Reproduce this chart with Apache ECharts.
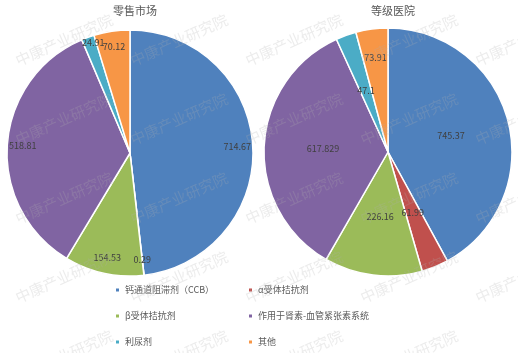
<!DOCTYPE html>
<html>
<head>
<meta charset="utf-8">
<script src="https://cdn.jsdelivr.net/npm/echarts@6/dist/echarts.min.js"></script>
<style>
  html, body { margin: 0; padding: 0; background: #fff; }
  #chart { width: 518px; height: 353px; }
</style>
</head>
<body>
<div id="chart"></div>
<script>
'use strict';

var _names = ['钙通道阻滞剂（CCB）', 'α受体拮抗剂', 'β受体拮抗剂', '作用于肾素-血管紧张素系统', '利尿剂', '其他'];
var _retailValues = [714.67, 0.29, 154.53, 518.81, 24.91, 70.12];
var _hospitalValues = [745.37, 61.99, 226.16, 617.829, 47.1, 73.91];
var _titles = ['零售市场', '等级医院'];
var _colors = ['#4F81BD', '#C0504D', '#9BBB59', '#8064A2', '#4BACC6', '#F79646'];

var FONT = '"Noto Sans CJK SC", "Noto Sans", sans-serif';

function toData(values) {
  return values.map(function (v, i) {
    return { name: _names[i], value: v };
  });
}

// 水印
function watermark() {
  var items = [];
  for (var r = 0; r < 5; r++) {
    for (var c = 0; c < 5; c++) {
      items.push({
        type: 'text',
        x: 64 + c * 115,
        y: 40 + r * 79,
        rotation: 0.42,
        z: 100,
        silent: true,
        style: {
          text: '中康产业研究院',
          font: '15px ' + FONT,
          fill: 'rgba(175,175,175,0.24)',
          align: 'center',
          verticalAlign: 'middle',
        },
      });
    }
  }
  return items;
}

var retailLabelData = toData(_retailValues);
// 利尿剂 的标签在原图中偏上
retailLabelData[4].label = { offset: [0, -9] };

var hospitalData = toData(_hospitalValues);
// 其他 的标签在原图中靠外
hospitalData[5].label = { offset: [-4, -30] };

var labelStyle = {
  show: true,
  position: 'inside',
  fontSize: 9,
  color: '#404040',
  fontFamily: FONT,
  formatter: '{c}',
};

var myChart = echarts.init(document.getElementById('chart'));
myChart.setOption({
  animation: false,
  color: _colors,
  textStyle: { fontFamily: FONT },
  title: [{
    text: _titles[0],
    left: 130,
    top: 0,
    textAlign: 'center',
    textStyle: { fontSize: 11, fontWeight: 'normal', color: '#595959', fontFamily: FONT },
  }, {
    text: _titles[1],
    left: 388,
    top: 0,
    textAlign: 'center',
    textStyle: { fontSize: 11, fontWeight: 'normal', color: '#595959', fontFamily: FONT },
  }],
  legend: [{
    data: [_names[0], _names[2], _names[4]],
    orient: 'vertical',
    left: 114,
    top: 284,
    padding: 0,
    icon: 'rect',
    itemWidth: 5,
    itemHeight: 5,
    itemGap: 14,
    textStyle: { fontSize: 9, color: '#595959', lineHeight: 12, fontFamily: FONT },
  }, {
    data: [_names[1], _names[3], _names[5]],
    orient: 'vertical',
    left: 247,
    top: 284,
    padding: 0,
    icon: 'rect',
    itemWidth: 5,
    itemHeight: 5,
    itemGap: 14,
    textStyle: { fontSize: 9, color: '#595959', lineHeight: 12, fontFamily: FONT },
  }],
  graphic: watermark(),
  series: [{
    name: _titles[0],
    type: 'pie',
    center: [130, 153],
    radius: [0, 123],
    startAngle: 90,
    clockwise: true,
    avoidLabelOverlap: false,
    itemStyle: { borderColor: '#fff', borderWidth: 1.5 },
    label: { show: false },
    labelLine: { show: false },
    data: toData(_retailValues),
  }, {
    // 只用于放标签（靠外）
    name: _titles[0] + '标签',
    type: 'pie',
    center: [130, 153],
    radius: [86, 123],
    startAngle: 90,
    clockwise: true,
    silent: true,
    avoidLabelOverlap: false,
    labelLayout: { hideOverlap: false },
    itemStyle: { color: 'transparent', borderWidth: 0 },
    label: labelStyle,
    labelLine: { show: false },
    data: retailLabelData,
  }, {
    name: _titles[1],
    type: 'pie',
    center: [388, 152],
    radius: [0, 124],
    startAngle: 90,
    clockwise: true,
    avoidLabelOverlap: false,
    labelLayout: { hideOverlap: false },
    itemStyle: { borderColor: '#fff', borderWidth: 1.5 },
    label: labelStyle,
    labelLine: { show: false },
    data: hospitalData,
  }],
});
</script>
</body>
</html>
